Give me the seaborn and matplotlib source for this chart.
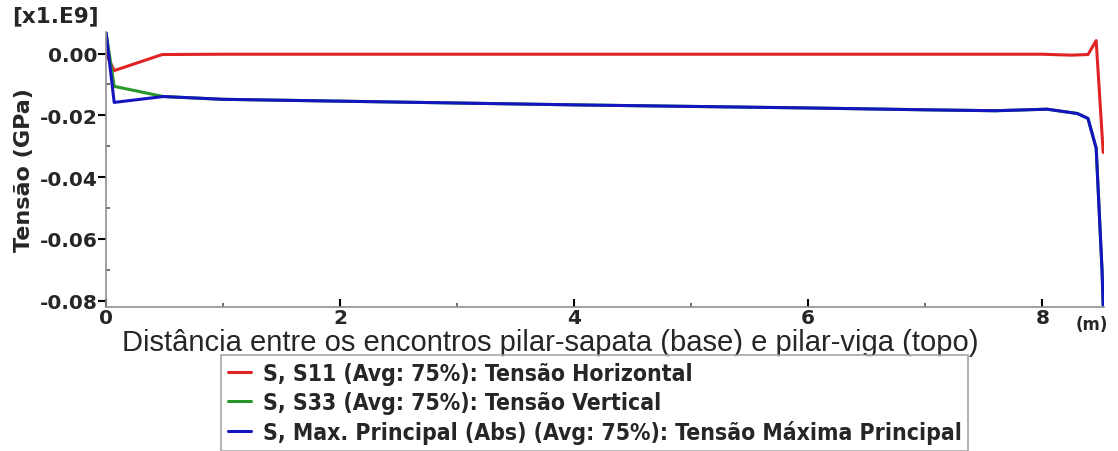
import numpy as np
import pandas as pd
import seaborn as sns
import matplotlib.pyplot as plt
from matplotlib.ticker import MultipleLocator

# data (stress in GPa along the column, m)
s11_x = [0.0, 0.07, 0.48, 1.0, 2.0, 3.0, 4.0, 5.0, 6.0, 7.0, 8.0, 8.25, 8.39, 8.46, 8.52]
s11_y = [0.0, -0.0055, -0.0003, -0.0002, -0.0002, -0.0002, -0.0002, -0.0002, -0.0002,
         -0.0002, -0.0002, -0.0005, -0.0003, 0.0042, -0.032]

s33_x = [0.0, 0.07, 0.49, 1.0, 2.0, 3.0, 4.0, 5.0, 6.0, 7.0, 7.6, 8.04, 8.3, 8.39, 8.46, 8.51, 8.52]
s33_y = [0.007, -0.0106, -0.0139, -0.0148, -0.0154, -0.016, -0.0166, -0.0171, -0.0176,
         -0.0182, -0.0185, -0.018, -0.0194, -0.021, -0.0306, -0.070, -0.0816]

smax_x = [0.0, 0.07, 0.49, 1.0, 2.0, 3.0, 4.0, 5.0, 6.0, 7.0, 7.6, 8.04, 8.3, 8.39, 8.46, 8.51, 8.52]
smax_y = [0.007, -0.0158, -0.0139, -0.0148, -0.0154, -0.016, -0.0166, -0.0171, -0.0176,
          -0.0182, -0.0185, -0.018, -0.0194, -0.021, -0.0306, -0.070, -0.0816]

labels = ['S, S11 (Avg: 75%): Tensão Horizontal',
          'S, S33 (Avg: 75%): Tensão Vertical',
          'S, Max. Principal (Abs) (Avg: 75%): Tensão Máxima Principal']
colors = ['#e02424', '#2a962a', '#1414c0']

sns.set_theme(style="white")
plt.rcParams['font.family'] = ['DejaVu Sans']

fig = plt.figure(figsize=(11.18, 4.52), dpi=100)
ax = fig.add_axes([0.0948, 0.319, 0.893, 0.608])

for xs, ys, lab, c in zip([s11_x, s33_x, smax_x], [s11_y, s33_y, smax_y], labels, colors):
    sns.lineplot(x=xs, y=ys, ax=ax, color=c, lw=2.2, label=lab, sort=False, estimator=None)

ax.set_xlim(0, 8.53)
ax.set_ylim(-0.082, 0.007)
ax.xaxis.set_minor_locator(MultipleLocator(1))
ax.yaxis.set_minor_locator(MultipleLocator(0.01))
ax.set_xticks([0, 2, 4, 6, 8])
ax.set_xticklabels(['0', '2', '4', '6', '8'])
ax.set_yticks([0.0, -0.02, -0.04, -0.06, -0.08])
ax.set_yticklabels(['0.00', '-0.02', '-0.04', '-0.06', '-0.08'])

for s in ['top', 'right']:
    ax.spines[s].set_visible(False)
for s in ['left', 'bottom']:
    ax.spines[s].set_color('#909090')
    ax.spines[s].set_linewidth(1.2)

ax.tick_params(axis='y', which='major', direction='out', length=6, width=1.5, color='black',
               labelsize=14.5, pad=0, left=True)
ax.tick_params(axis='y', which='minor', direction='in', length=3, width=1.2, color='#555555', left=True)
ax.tick_params(axis='x', which='major', direction='in', length=6, width=1.5, color='black',
               labelsize=14.5, pad=1, bottom=True)
ax.tick_params(axis='x', which='minor', direction='in', length=3, width=1.2, color='#555555', bottom=True)
for t in ax.get_xticklabels() + ax.get_yticklabels():
    t.set_fontweight('bold')

ax.set_ylabel('Tensão (GPa)', fontsize=16, fontweight='bold', labelpad=4)
ax.set_xlabel('Distância entre os encontros pilar-sapata (base) e pilar-viga (topo)',
              family='Liberation Sans', fontsize=21)
ax.xaxis.set_label_coords(0.445, -0.078)

fig.text(0.011, 0.963, '[x1.E9]', fontsize=15.5, fontweight='bold', va='center', ha='left')
fig.text(0.962, 0.28, '(m)', fontsize=12, fontweight='bold', va='center', ha='left')

ax.get_legend().remove()
handles, labs = ax.get_legend_handles_labels()
leg = fig.legend(handles, labs, loc='upper center', bbox_to_anchor=(0.532, 0.213),
                 borderaxespad=0, frameon=True, fancybox=False, edgecolor='#909090',
                 handlelength=1.0, handletextpad=0.5, borderpad=0.3, labelspacing=0.28,
                 prop={'weight': 'bold', 'size': 16.5, 'stretch': 'condensed'})
leg.get_frame().set_linewidth(1.2)

plt.savefig('out.png', dpi=100)
